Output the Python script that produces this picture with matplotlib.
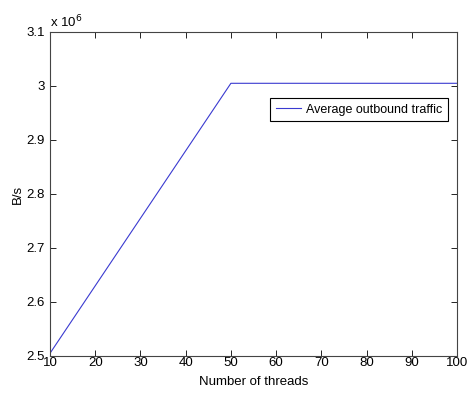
import matplotlib
matplotlib.use("Agg")
import matplotlib.pyplot as plt

plt.rcParams['font.family'] = ['Liberation Sans', 'DejaVu Sans']

threads = [10, 20, 30, 40, 50, 60, 70, 80, 90, 100]
traffic = [2.505e6, 2.63e6, 2.755e6, 2.88e6, 3.005e6, 3.005e6, 3.005e6, 3.005e6, 3.005e6, 3.005e6]
xticks = [10, 20, 30, 40, 50, 60, 70, 80, 90, 100]
yticks = [2.5e6, 2.6e6, 2.7e6, 2.8e6, 2.9e6, 3.0e6, 3.1e6]
ytick_labels = ['2.5', '2.6', '2.7', '2.8', '2.9', '3', '3.1']

fig = plt.figure(figsize=(4.7, 3.95), dpi=100)
ax = fig.add_axes([50/470, 1 - 356/395, 407/470, 324/395])

ax.plot(threads, traffic, color='#3a3ad0', linewidth=0.8, label='Average outbound traffic')

ax.set_xlim(10, 100)
ax.set_ylim(2.5e6, 3.1e6)
ax.set_xticks(xticks)
ax.set_xticklabels([str(t) for t in xticks])
ax.set_yticks(yticks)
ax.set_yticklabels(ytick_labels)
ax.tick_params(direction='in', top=True, right=True, labelsize=9.5, length=4, width=0.6)
ax.tick_params(axis='x', pad=1)
ax.tick_params(axis='y', pad=3.5)
# lift the bottom y label a little so it clears the first x label
ax.get_yticklabels()[0].set_verticalalignment('center_baseline')
for s in ax.spines.values():
    s.set_linewidth(0.8)
    s.set_color('#444444')

ax.set_xlabel('Number of threads', fontsize=9.5, labelpad=5)
ax.set_ylabel('B/s', fontsize=9.5, labelpad=2)
ax.text(0.0, 1.005, r'x 10$^6$', transform=ax.transAxes, fontsize=9.5, va='bottom', ha='left')

leg = ax.legend(loc='upper left', bbox_to_anchor=(220/407, 1 - 66/324), fontsize=9,
                fancybox=False, framealpha=1, edgecolor='black', borderpad=0.45,
                handlelength=2.0, handletextpad=0.4, borderaxespad=0)
leg.get_frame().set_linewidth(0.8)

fig.savefig('out.png', dpi=100)
